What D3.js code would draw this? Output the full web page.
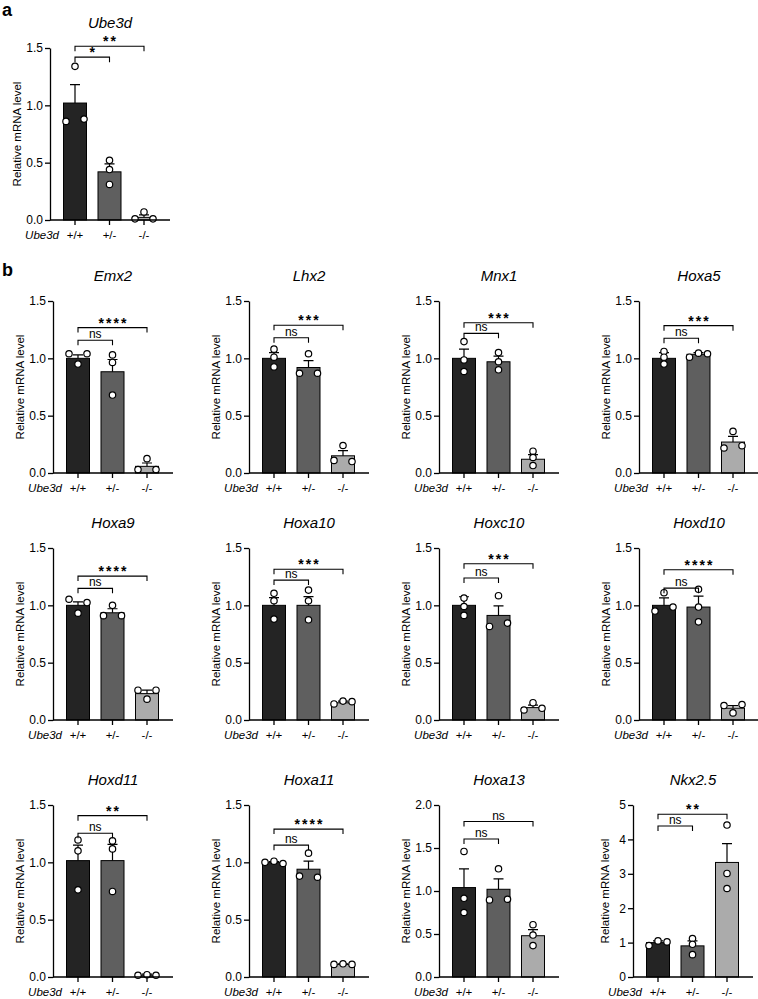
<!doctype html>
<html>
<head>
<meta charset="utf-8">
<title>Ube3d qPCR</title>
<style>
body { margin: 0; background: #fff; }
svg text { font-family: "Liberation Sans", Arial, sans-serif; fill: #000; }
</style>
</head>
<body>
<div id="chart"></div>
<script src="https://cdn.jsdelivr.net/npm/d3@7"></script>
<script>
// data
var genes = ["Ube3d", "Emx2", "Lhx2", "Mnx1", "Hoxa5", "Hoxa9", "Hoxa10", "Hoxc10", "Hoxd10",
             "Hoxd11", "Hoxa11", "Hoxa13", "Nkx2.5"];
var genotypes = ["+/+", "+/-", "-/-"];
var yMax  = [1.5, 1.5, 1.5, 1.5, 1.5, 1.5, 1.5, 1.5, 1.5, 1.5, 1.5, 2.0, 5];
var yStep = [0.5, 0.5, 0.5, 0.5, 0.5, 0.5, 0.5, 0.5, 0.5, 0.5, 0.5, 0.5, 1];

var means = [
  [1.02, 0.42, 0.023],
  [1.00, 0.883, 0.058],
  [1.00, 0.92, 0.15],
  [1.00, 0.97, 0.12],
  [1.00, 1.035, 0.27],
  [1.00, 0.935, 0.23],
  [1.00, 1.00, 0.15],
  [1.00, 0.912, 0.108],
  [1.00, 0.985, 0.103],
  [1.015, 1.015, 0.015],
  [1.00, 0.94, 0.11],
  [1.04, 1.02, 0.48],
  [1.00, 0.905, 3.33]
];
var sems = [
  [0.16, 0.07, 0.022],
  [0.03, 0.107, 0.029],
  [0.05, 0.06, 0.045],
  [0.08, 0.05, 0.04],
  [0.05, 0.015, 0.05],
  [0.03, 0.035, 0.03],
  [0.067, 0.076, 0.015],
  [0.075, 0.084, 0.022],
  [0.065, 0.095, 0.022],
  [0.135, 0.142, 0.01],
  [0.006, 0.07, 0.004],
  [0.218, 0.122, 0.07],
  [0.05, 0.145, 0.55]
];
var points = [
  [[1.34, 0.86, 0.88], [0.52, 0.44, 0.31], [0.07, 0.01, 0.01]],
  [[1.04, 1.04, 0.95], [1.03, 0.964, 0.68], [0.125, 0.03, 0.03]],
  [[1.08, 1.01, 0.925], [1.04, 0.87, 0.87], [0.24, 0.11, 0.10]],
  [[1.146, 0.986, 0.885], [1.05, 0.97, 0.90], [0.19, 0.135, 0.065]],
  [[1.06, 1.01, 0.95], [1.01, 1.045, 1.04], [0.363, 0.218, 0.238]],
  [[1.053, 1.024, 0.932], [1.0, 0.91, 0.91], [0.182, 0.26, 0.26]],
  [[1.105, 1.04, 0.88], [1.133, 1.04, 0.874], [0.14, 0.165, 0.16]],
  [[1.063, 0.99, 0.912], [1.084, 0.816, 0.845], [0.151, 0.087, 0.102]],
  [[1.11, 0.95, 0.985], [1.14, 0.985, 0.856], [0.126, 0.135, 0.062]],
  [[1.195, 1.1, 0.76], [1.187, 1.117, 0.746], [0.015, 0.02, 0.015]],
  [[1.0, 1.01, 0.99], [1.08, 0.88, 0.87], [0.11, 0.115, 0.11]],
  [[1.46, 0.915, 0.75], [1.258, 0.896, 0.904], [0.608, 0.488, 0.365]],
  [[0.913, 1.05, 1.02], [1.117, 0.95, 0.65], [4.417, 3.01, 2.573]]
];
// significance: [+/+ vs +/-, +/+ vs -/-]
var sigLabels = [
  ["*", "**"], ["ns", "****"], ["ns", "***"], ["ns", "***"], ["ns", "***"],
  ["ns", "****"], ["ns", "***"], ["ns", "***"], ["ns", "****"],
  ["ns", "**"], ["ns", "****"], ["ns", "ns"], ["ns", "**"]
];
var sigLevels = [
  [1.42, 1.515], [1.158, 1.268], [1.18, 1.288], [1.218, 1.31], [1.175, 1.285],
  [1.148, 1.255], [1.22, 1.315], [1.238, 1.363], [1.15, 1.31],
  [1.253, 1.407], [1.15, 1.29], [1.604, 1.808], [4.39, 4.73]
];

var barColors = ["#242424", "#5f5f5f", "#ababab"];

var W = 758, H = 999;
var plotW = 120, plotH = 172;
var colX = [53, 249, 439, 639];
var rowTop = [301, 548, 805];

var svg = d3.select("#chart").append("svg")
  .attr("width", W).attr("height", H);

svg.append("text").attr("x", 2).attr("y", 16)
  .attr("font-size", "18px").attr("font-weight", "bold").text("a");
svg.append("text").attr("x", 2).attr("y", 276)
  .attr("font-size", "18px").attr("font-weight", "bold").text("b");

// spread points that overlap, like a column scatter
function jitter(vals, y) {
  var idx = vals.map(function(v, i) { return i; })
    .sort(function(a, b) { return vals[a] - vals[b]; });
  var groups = [], cur = [idx[0]];
  for (var k = 1; k < idx.length; k++) {
    if (Math.abs(y(vals[idx[k]]) - y(vals[idx[k - 1]])) < 4.5) cur.push(idx[k]);
    else { groups.push(cur); cur = [idx[k]]; }
  }
  groups.push(cur);
  var off = [];
  groups.forEach(function(g) {
    g.sort(function(a, b) { return a - b; });
    var slots = g.length === 1 ? [0] : g.length === 2 ? [-9, 9] : [-9, 0, 9];
    g.forEach(function(p, j) { off[p] = slots[j]; });
  });
  return off;
}

genes.forEach(function(gene, i) {
  var ax, top;
  if (i === 0) { ax = 50; top = 48; }
  else {
    ax = colX[(i - 1) % 4];
    top = rowTop[Math.floor((i - 1) / 4)];
  }
  var intTicks = yStep[i] >= 1;
  if (intTicks) ax -= 6;

  var g = svg.append("g").attr("transform", "translate(" + ax + "," + top + ")");

  var y = d3.scaleLinear().domain([0, yMax[i]]).range([plotH, 0]);
  var x = d3.scalePoint().domain(genotypes).range([25, 94]);
  var ticks = d3.range(0, yMax[i] + 1e-9, yStep[i]);

  // bars
  g.selectAll(".bar").data(genotypes).enter().append("rect")
    .attr("x", function(d) { return x(d) - 11.5; })
    .attr("width", 23)
    .attr("y", function(d, j) { return y(means[i][j]); })
    .attr("height", function(d, j) { return y(0) - y(means[i][j]); })
    .attr("fill", function(d, j) { return barColors[j]; })
    .attr("stroke", "#000").attr("stroke-width", 1);

  // error bars (upper half)
  genotypes.forEach(function(d, j) {
    var yt = y(means[i][j] + sems[i][j]), yb = y(means[i][j]);
    g.append("path")
      .attr("d", "M" + x(d) + "," + yb + "V" + yt + "M" + (x(d) - 5) + "," + yt + "H" + (x(d) + 5))
      .attr("stroke", "#000").attr("stroke-width", 1.2).attr("fill", "none");
  });

  // points
  genotypes.forEach(function(d, j) {
    var vals = points[i][j];
    var off = jitter(vals, y);
    g.selectAll(".pt" + j).data(vals).enter().append("circle")
      .attr("cx", function(v, k) { return x(d) + off[k]; })
      .attr("cy", function(v) { return y(v); })
      .attr("r", 3.2)
      .attr("fill", "#fff").attr("stroke", "#000").attr("stroke-width", 1.2);
  });

  // axes
  var yAxis = d3.axisLeft(y).tickValues(ticks).tickSize(5).tickSizeOuter(0).tickPadding(2)
    .tickFormat(intTicks ? d3.format("d") : d3.format(".1f"));
  var ya = g.append("g").call(yAxis);
  ya.select(".domain").attr("stroke-width", 1.3);
  ya.selectAll(".tick line").attr("stroke-width", 1.3);
  ya.selectAll("text").attr("font-size", "12px");

  var xa = g.append("g").attr("transform", "translate(0," + plotH + ")");
  xa.append("path").attr("d", "M0,0H" + plotW).attr("stroke", "#000").attr("stroke-width", 1.3);
  xa.selectAll("line").data(genotypes).enter().append("line")
    .attr("x1", function(d) { return x(d); }).attr("x2", function(d) { return x(d); })
    .attr("y1", 0).attr("y2", 5).attr("stroke", "#000").attr("stroke-width", 1.3);
  xa.selectAll(".cat").data(genotypes).enter().append("text")
    .attr("x", function(d) { return x(d); }).attr("y", 19)
    .attr("text-anchor", "middle").attr("font-size", "11.5px").text(function(d) { return d; });
  xa.append("text").attr("x", 9).attr("y", 19).attr("text-anchor", "end")
    .attr("font-size", "11.5px").attr("font-style", "italic").text("Ube3d");

  // y label
  var lx = intTicks ? -24 : -29;
  g.append("text")
    .attr("transform", "translate(" + lx + "," + (plotH / 2) + ") rotate(-90)")
    .attr("text-anchor", "middle").attr("font-size", "11.5px")
    .text("Relative mRNA level");

  // title
  g.append("text").attr("x", plotW / 2).attr("y", -20)
    .attr("text-anchor", "middle").attr("font-size", "15px").attr("font-style", "italic")
    .text(gene);

  // significance brackets
  [[0, 1], [0, 2]].forEach(function(pair, b) {
    var yb = y(sigLevels[i][b]);
    var x1 = x(genotypes[pair[0]]), x2 = x(genotypes[pair[1]]);
    g.append("path")
      .attr("d", "M" + x1 + "," + (yb + 5) + "V" + yb + "H" + x2 + "V" + (yb + 5))
      .attr("stroke", "#000").attr("stroke-width", 1.1).attr("fill", "none");
    var lab = sigLabels[i][b];
    var stars = lab !== "ns";
    g.append("text").attr("x", (x1 + x2) / 2 + (stars ? 1 : 0)).attr("y", yb - (stars ? 0 : 2))
      .attr("text-anchor", "middle").attr("font-size", stars ? "14px" : "12px")
      .attr("font-weight", stars ? "bold" : "normal")
      .attr("letter-spacing", stars ? "2px" : null)
      .text(lab);
  });
});
</script>
</body>
</html>
